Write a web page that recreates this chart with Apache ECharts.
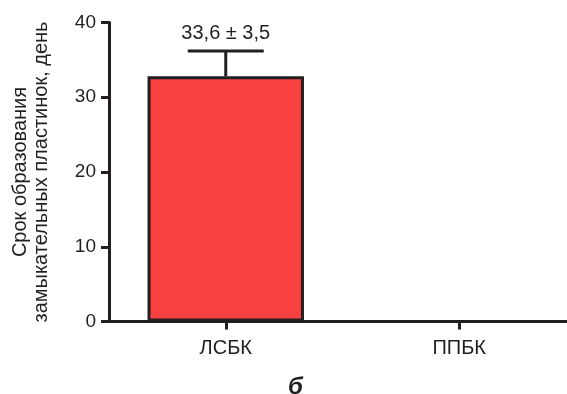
<!DOCTYPE html>
<html><head><meta charset="utf-8">
<script src="https://cdn.jsdelivr.net/npm/echarts@6/dist/echarts.min.js"></script>
<style>html,body{margin:0;padding:0;background:#fff}#c{width:567px;height:394px}</style>
</head><body><div id="c"></div>
<script>
const categories = ['ЛСБК', 'ППБК'];
const means = [32.8, 0];
const errTops = [36.2, null];
const barLabels = ['33,6 ± 3,5', ''];
const yTicks = [0, 10, 20, 30, 40];
const yTitle = 'Срок образования\nзамыкательных пластинок, день';
const panelLetter = 'б';

const ink = '#231f20';
const font = '"Liberation Sans", Arial, sans-serif';
const chart = echarts.init(document.getElementById('c'), null, {renderer: 'canvas'});
chart.setOption({
  animation: false,
  grid: {left: 109, top: 22.5, width: 467, height: 299, containLabel: false, outerBoundsMode: 'none'},
  title: {text: panelLetter, left: 283, top: 370, textStyle: {fontFamily: font, fontSize: 24, fontWeight: 'bold', fontStyle: 'italic', color: ink}},
  xAxis: {
    type: 'category', data: categories, boundaryGap: true,
    axisLine: {lineStyle: {color: ink, width: 3}},
    axisTick: {show: true, alignWithLabel: true, length: 8, lineStyle: {color: ink, width: 3}},
    axisLabel: {color: ink, fontFamily: font, fontSize: 20, margin: 17},
    splitLine: {show: false}
  },
  yAxis: {
    type: 'value', min: yTicks[0], max: yTicks[yTicks.length - 1], interval: 10,
    name: yTitle, nameLocation: 'middle', nameGap: 57, nameRotate: 90,
    nameTextStyle: {color: ink, fontFamily: font, fontSize: 20, lineHeight: 21},
    axisLine: {show: true, lineStyle: {color: ink, width: 3}},
    axisTick: {show: true, length: 8, lineStyle: {color: ink, width: 3}},
    axisLabel: {color: ink, fontFamily: font, fontSize: 19, margin: 13},
    splitLine: {show: false}
  },
  series: [
    {
      type: 'bar', data: means, barWidth: '67%',
      itemStyle: {color: '#f94142', borderColor: ink, borderWidth: 3},
      z: 2
    },
    {
      type: 'custom',
      data: categories.map((c, i) => [i, means[i], errTops[i], barLabels[i]]),
      renderItem: function (params, api) {
        const i = api.value(0);
        if (errTops[i] == null) return;
        const base = api.coord([i, api.value(1)]);
        const top = api.coord([i, api.value(2)]);
        const hw = 38;
        return {
          type: 'group',
          children: [
            {type: 'line', shape: {x1: base[0], y1: base[1], x2: top[0], y2: top[1]}, style: {stroke: ink, lineWidth: 3}},
            {type: 'line', shape: {x1: top[0] - hw, y1: top[1], x2: top[0] + hw, y2: top[1]}, style: {stroke: ink, lineWidth: 3}},
            {type: 'text', x: top[0], y: top[1] - 7, style: {text: barLabels[i], fill: ink, font: '20px ' + font, align: 'center', verticalAlign: 'bottom'}}
          ]
        };
      },
      z: 3
    }
  ]
});
</script></body></html>
